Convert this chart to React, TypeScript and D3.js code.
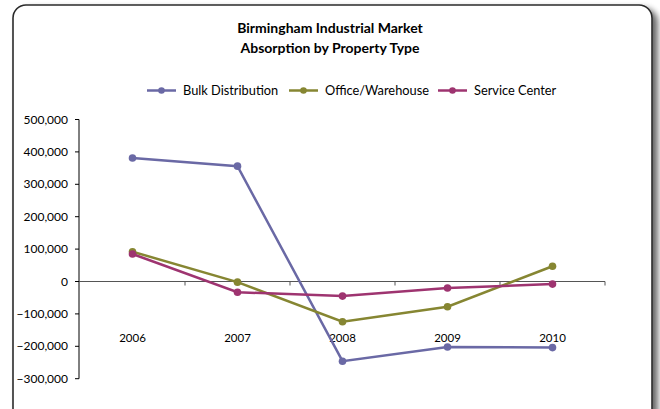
import React from "react";
import * as d3 from "d3";

const years = ["2006", "2007", "2008", "2009", "2010"];
const bulkDistribution = [381000, 356000, -246000, -202000, -204000];
const officeWarehouse = [92000, -2000, -124000, -78000, 47000];
const serviceCenter = [85000, -33000, -45000, -20000, -8000];
const yTicks = [500000, 400000, 300000, 200000, 100000, 0, -100000, -200000, -300000];
const seriesNames = ["Bulk Distribution", "Office/Warehouse", "Service Center"];
const seriesColors = ["#6A69A5", "#868632", "#9E3470"];

export default function App() {
  const W = 660, H = 409;
  const font = "'Lato', 'Open Sans', sans-serif";
  const x = d3.scaleBand<string>().domain(years).range([80, 605]);
  const y = d3.scaleLinear().domain([-300000, 500000]).range([378.7, 119.5]);
  const fmt = d3.format(",");
  const series = [bulkDistribution, officeWarehouse, serviceCenter];
  const line = d3
    .line<number>()
    .x((_, i) => (x(years[i]) as number) + x.bandwidth() / 2)
    .y((d) => y(d));
  const legendX = [147, 289, 438];
  const boundaries = years.map((yr) => (x(yr) as number) + x.bandwidth());

  return (
    <svg width={W} height={H} style={{ position: "absolute", left: 0, top: 0 }}>
      <defs>
        <filter id="sh" x="-5%" y="-5%" width="115%" height="115%">
          <feGaussianBlur in="SourceAlpha" stdDeviation="3" />
          <feOffset dx="5" dy="4" result="b" />
          <feComponentTransfer>
            <feFuncA type="linear" slope="0.6" />
          </feComponentTransfer>
          <feMerge>
            <feMergeNode />
            <feMergeNode in="SourceGraphic" />
          </feMerge>
        </filter>
      </defs>
      <rect width={W} height={H} fill="#fff" />
      <rect x={13} y={5} width={639} height={420} rx={13} ry={13} fill="#fff" stroke="#2b2b2b" strokeWidth={1.6} filter="url(#sh)" />
      <text x={330} y={33} textAnchor="middle" fontFamily={font} fontWeight="bold" fontSize={14} fill="#000">
        Birmingham Industrial Market
      </text>
      <text x={330} y={53} textAnchor="middle" fontFamily={font} fontWeight="bold" fontSize={14} fill="#000">
        Absorption by Property Type
      </text>
      {seriesNames.map((n, i) => (
        <g key={n}>
          <line x1={legendX[i]} x2={legendX[i] + 29} y1={90.5} y2={90.5} stroke={seriesColors[i]} strokeWidth={2.5} />
          <circle cx={legendX[i] + 14.5} cy={90.5} r={3.3} fill={seriesColors[i]} />
          <text x={legendX[i] + 36} y={95} fontFamily={font} fontSize={12.8} fill="#000">
            {n}
          </text>
        </g>
      ))}
      {/* y axis */}
      <line x1={79} x2={79} y1={y(500000)} y2={y(-300000)} stroke="#000" strokeWidth={1} />
      {yTicks.map((t) => (
        <g key={t}>
          <line x1={75} x2={79} y1={y(t)} y2={y(t)} stroke="#000" />
          <text x={68} y={y(t) + 4} textAnchor="end" fontFamily={font} fontSize={12} fill="#000">
            {fmt(t)}
          </text>
        </g>
      ))}
      {/* zero axis */}
      <line x1={79} x2={605} y1={y(0)} y2={y(0)} stroke="#555" strokeWidth={1} />
      {boundaries.map((b, i) => (
        <line key={i} x1={b} x2={b} y1={y(0)} y2={y(0) + 4} stroke="#555" />
      ))}
      {years.map((yr) => (
        <text key={yr} x={(x(yr) as number) + x.bandwidth() / 2} y={342} textAnchor="middle" fontFamily={font} fontSize={11.5} fill="#000">
          {yr}
        </text>
      ))}
      {series.map((s, i) => (
        <g key={i}>
          <path d={line(s) as string} fill="none" stroke={seriesColors[i]} strokeWidth={2.5} />
          {s.map((v, j) => (
            <circle key={j} cx={(x(years[j]) as number) + x.bandwidth() / 2} cy={y(v)} r={3.8} fill={seriesColors[i]} />
          ))}
        </g>
      ))}
    </svg>
  );
}
